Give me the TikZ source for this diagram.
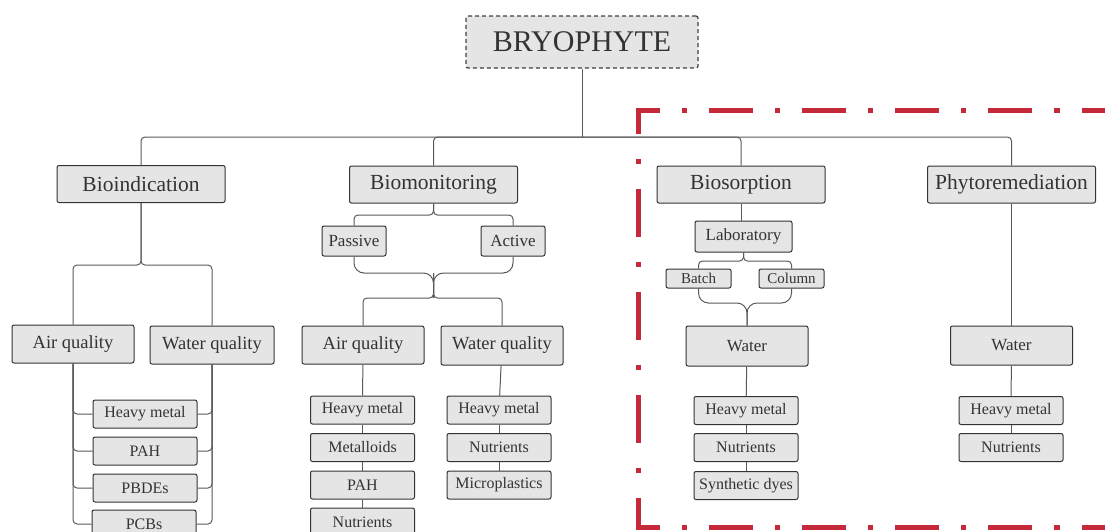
\documentclass[tikz,border=0pt]{standalone}
\usepackage{fontspec}
\setmainfont{Liberation Serif}
\newfontfamily\diagfont{Liberation Serif}
\usepackage{xcolor}
\definecolor{framered}{HTML}{C62A3A}

\tikzset{
  box/.style={draw=black!80, fill=black!10, rounded corners=2pt, line width=1pt,
    inner sep=0pt, align=center, text=black!80},
  rootbox/.style={box, draw=black!75, line width=1.2pt, dash pattern=on 4pt off 3pt,
    minimum width=232, minimum height=52, font=\diagfont\fontsize{30}{34}\selectfont},
  topbox/.style={box, minimum width=168, minimum height=37, font=\diagfont\fontsize{21.5}{24}\selectfont},
  midbox/.style={box, minimum width=122, minimum height=38, font=\diagfont\fontsize{18.5}{22}\selectfont},
  smallbox/.style={box, minimum width=64, minimum height=30, font=\diagfont\fontsize{17}{20}\selectfont},
  tinybox/.style={box, minimum width=65, minimum height=19, font=\diagfont\fontsize{15}{17}\selectfont},
  itembox/.style={box, minimum width=104, minimum height=28, font=\diagfont\fontsize{16}{18}\selectfont},
  link/.style={draw=black!65, line width=1pt, rounded corners=4pt},
}

\begin{document}
\begin{tikzpicture}[x=1pt, y=-1pt]
  \useasboundingbox (0,0) rectangle (1105,531);
  \clip (0,0) rectangle (1105,531);

  % root and main branches
  \node [rootbox] (bryo) at (582,42) {BRYOPHYTE};
  \node [topbox] (bioind) at (141,184) {Bioindication};
  \node [topbox] (biomon) at (433.5,184.5) {Biomonitoring};
  \node [topbox] (biosorp) at (741,184.5) {Biosorption};
  \node [topbox] (phyto) at (1011.5,184.5) {Phytoremediation};

  % bioindication
  \node [midbox] (bi-air) at (73,344) {Air quality};
  \node [midbox, minimum width=124] (bi-water) at (212,345) {Water quality};
  \node [itembox] (bi-hm) at (145,414) {Heavy metal};
  \node [itembox] (bi-pah) at (145,451) {PAH};
  \node [itembox] (bi-pbde) at (145,488) {PBDEs};
  \node [itembox] (bi-pcb) at (144,524) {PCBs};

  % biomonitoring
  \node [smallbox] (passive) at (354,241) {Passive};
  \node [smallbox] (active) at (513,241) {Active};
  \node [midbox] (bm-air) at (363,345) {Air quality};
  \node [midbox, minimum height=39] (bm-water) at (502,345.5) {Water quality};
  \node [itembox] (bm-hm) at (362.5,410) {Heavy metal};
  \node [itembox] (bm-met) at (362.5,447.5) {Metalloids};
  \node [itembox] (bm-pah) at (362.5,485) {PAH};
  \node [itembox] (bm-nut) at (362.5,522) {Nutrients};
  \node [itembox] (bm-whm) at (499,410) {Heavy metal};
  \node [itembox] (bm-wnut) at (499,447.5) {Nutrients};
  \node [itembox] (bm-micro) at (499,485) {Microplastics};

  % biosorption
  \node [smallbox, minimum width=97, minimum height=31] (lab) at (743.5,236.5) {Laboratory};
  \node [tinybox] (batch) at (698.5,278.5) {Batch};
  \node [tinybox] (column) at (791.5,278.5) {Column};
  \node [midbox, minimum height=40, font=\diagfont\fontsize{17}{20}\selectfont] (bs-water) at (747,346) {Water};
  \node [itembox] (bs-hm) at (746,410.5) {Heavy metal};
  \node [itembox] (bs-nut) at (746,447.5) {Nutrients};
  \node [itembox] (bs-dyes) at (746,485.5) {Synthetic dyes};

  % phytoremediation
  \node [midbox, minimum height=39, font=\diagfont\fontsize{17}{20}\selectfont] (ph-water) at (1011.5,345.5) {Water};
  \node [itembox] (ph-hm) at (1011,410.5) {Heavy metal};
  \node [itembox] (ph-nut) at (1011,447.5) {Nutrients};

  % junction points
  \coordinate (hub) at (582,137);
  \coordinate (bi-fork) at (141,265);
  \coordinate (bm-fork1) at (433.5,215);
  \coordinate (bm-join) at (433.5,273);
  \coordinate (bm-fork2) at (433.5,298);
  \coordinate (bs-fork) at (743.5,261);
  \coordinate (bs-join) at (747,303);

  % top level
  \draw [link] (bryo.south) -- (hub);
  \foreach \n in {bioind, biomon, biosorp, phyto}
    \draw [link] (hub) -| (\n.north);

  % bioindication links
  \draw [link] (bi-air.north) |- (bi-fork) -- (bioind.south);
  \draw [link] (bi-water.north) |- (bi-fork) -- (bioind.south);
  \foreach \i in {bi-hm, bi-pah, bi-pbde, bi-pcb} {
    \draw [link] (bi-air.south) |- (\i.west);
    \draw [link] (bi-water.south) |- (\i.east);
  }

  % biomonitoring links
  \draw [link] (passive.north) |- (bm-fork1) -- (biomon.south);
  \draw [link] (active.north) |- (bm-fork1) -- (biomon.south);
  \draw [link, rounded corners=10pt] (passive.south) |- (bm-join) -- (bm-fork2);
  \draw [link, rounded corners=10pt] (active.south) |- (bm-join) -- (bm-fork2);
  \draw [link] (bm-air.north) |- (bm-fork2) -- (bm-join);
  \draw [link] (bm-water.north) |- (bm-fork2) -- (bm-join);
  \foreach \a/\b in {bm-air/bm-hm, bm-hm/bm-met, bm-met/bm-pah, bm-pah/bm-nut,
                     bm-water/bm-whm, bm-whm/bm-wnut, bm-wnut/bm-micro}
    \draw [link] (\a) -- (\b);

  % biosorption links
  \draw [link] (biosorp.south) -- (biosorp.south |- lab.north);
  \draw [link] (batch.north) |- (bs-fork) -- (lab.south);
  \draw [link] (column.north) |- (bs-fork) -- (lab.south);
  \draw [link, rounded corners=10pt] (batch.south) |- (bs-join) -- (bs-water.north);
  \draw [link, rounded corners=10pt] (column.south) |- (bs-join) -- (bs-water.north);
  \foreach \a/\b in {bs-water/bs-hm, bs-hm/bs-nut, bs-nut/bs-dyes}
    \draw [link] (\a) -- (\b);

  % phytoremediation links
  \draw [link] (phyto) -- (ph-water);
  \foreach \a/\b in {ph-water/ph-hm, ph-hm/ph-nut}
    \draw [link] (\a) -- (\b);

  % red dash-dot frame
  \begin{scope}[draw=framered, line width=5pt, line cap=rect]
    \draw [dash pattern=on 39pt off 27pt on 0.1pt off 27pt, dash phase=19.5pt]
      (638,110) -- (1110,110);
    \draw [dash pattern=on 39pt off 27pt on 0.1pt off 27pt, dash phase=19.5pt]
      (638,527) -- (1110,527);
    \draw [dash pattern=on 43pt off 30pt on 0.1pt off 30pt, dash phase=21.5pt]
      (638,110) -- (638,527);
  \end{scope}
\end{tikzpicture}
\end{document}
